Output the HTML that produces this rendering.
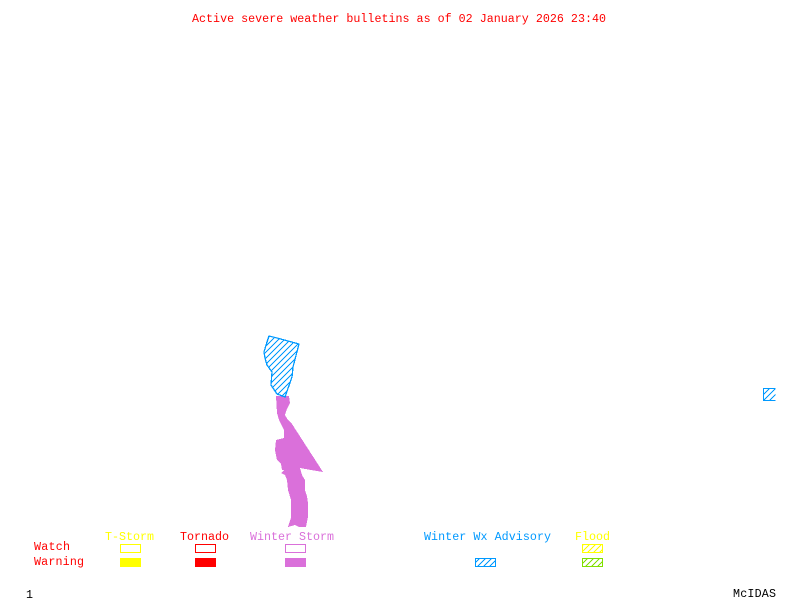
<!DOCTYPE html>
<html>
<head>
<meta charset="utf-8">
<style>
html,body{margin:0;padding:0;background:#fff;}
svg{display:block;}
text{font-family:"Liberation Mono",monospace;font-size:11.67px;}
</style>
</head>
<body>
<svg width="800" height="600" viewBox="0 0 800 600" xmlns="http://www.w3.org/2000/svg">
<defs>
<pattern id="hb" width="6" height="6" patternUnits="userSpaceOnUse"><path d="M-1 7L7 -1M-1 1L1 -1M5 7L7 5" stroke="#0099ff" stroke-width="1" fill="none" shape-rendering="crispEdges"/></pattern>
<pattern id="hy" width="6" height="6" patternUnits="userSpaceOnUse"><path d="M-1 7L7 -1M-1 1L1 -1M5 7L7 5" stroke="#ffff00" stroke-width="1" fill="none" shape-rendering="crispEdges"/></pattern>
<pattern id="hg" width="6" height="6" patternUnits="userSpaceOnUse"><path d="M-1 7L7 -1M-1 1L1 -1M5 7L7 5" stroke="#80e000" stroke-width="1" fill="none" shape-rendering="crispEdges"/></pattern>
</defs>
<rect width="800" height="600" fill="#fff"/>

<text x="192" y="22" fill="#ff0000" textLength="414" lengthAdjust="spacing">Active severe weather bulletins as of 02 January 2026 23:40</text>

<polygon shape-rendering="crispEdges" points="276,396 289,396 290,403 287,409 285,415 288,420 292,424 323,472 311,470 300,468 302,475 305,480 305,490 307,496 308,503 308,517 306,527 299,527 295,525 288,527 291,518 291,500 288,490 287,480 285,475 281,473 284,470 282,470 281,464 277,460 275,450 276,440 284,438 284,430 279,420 277,413" fill="#da70da"/>

<polygon shape-rendering="crispEdges" points="269,336 277,338 299,344 293,367 292,377 285,397 277,394 271,385 272,372 267,365 265,358 264,352 267,342" fill="url(#hb)" stroke="#0099ff" stroke-width="1.3"/>

<path shape-rendering="crispEdges" d="M775.5 388.5H763.5V400.5H775.5" fill="url(#hb)" stroke="#0099ff" stroke-width="1"/>

<g>
<text x="105" y="540" fill="#ffff00" textLength="49">T-Storm</text>
<text x="180" y="540" fill="#ff0000" textLength="49">Tornado</text>
<text x="250" y="540" fill="#da70da" textLength="84">Winter Storm</text>
<text x="424" y="540" fill="#0099ff" textLength="127">Winter Wx Advisory</text>
<text x="575" y="540" fill="#ffff00" textLength="35">Flood</text>
<text x="34" y="550" fill="#ff0000" textLength="36">Watch</text>
<text x="34" y="565" fill="#ff0000" textLength="50">Warning</text>
<text x="26" y="598" fill="#000" textLength="6">1</text>
<text x="733" y="597" fill="#000" textLength="43">McIDAS</text>
</g>

<g shape-rendering="crispEdges">
<rect x="120.5" y="544.5" width="20" height="8" fill="none" stroke="#ffff00"/>
<rect x="120" y="558" width="21" height="9" fill="#ffff00"/>
<rect x="195.5" y="544.5" width="20" height="8" fill="none" stroke="#ff0000"/>
<rect x="195" y="558" width="21" height="9" fill="#ff0000"/>
<rect x="285.5" y="544.5" width="20" height="8" fill="none" stroke="#da70da"/>
<rect x="285" y="558" width="21" height="9" fill="#da70da"/>
<rect x="475.5" y="558.5" width="20" height="8" fill="url(#hb)" stroke="#0099ff"/>
<rect x="582.5" y="544.5" width="20" height="8" fill="url(#hy)" stroke="#ffff00"/>
<rect x="582.5" y="558.5" width="20" height="8" fill="url(#hg)" stroke="#80e000"/>
</g>
</svg>
</body>
</html>
